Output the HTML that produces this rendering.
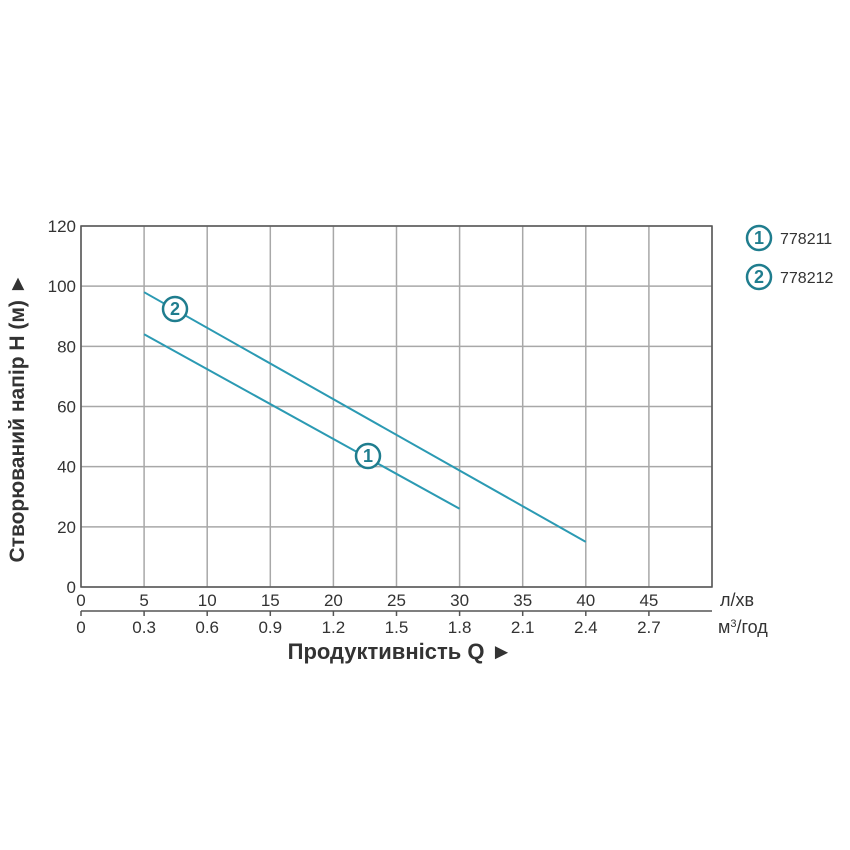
<!DOCTYPE html>
<html><head><meta charset="utf-8"><style>body{margin:0;background:#fff}svg{display:block}text{font-family:"Liberation Sans",sans-serif}</style></head>
<body>
<svg id="c" width="850" height="850" viewBox="0 0 850 850"></svg>
<script>
const xTicks=[0,5,10,15,20,25,30,35,40,45];
const x2Labels=["0","0.3","0.6","0.9","1.2","1.5","1.8","2.1","2.4","2.7"];
const yTicks=[0,20,40,60,80,100,120];
const s1Q=[5,30];
const s1H=[84,26];
const s2Q=[5,40];
const s2H=[98,15];
const legendLabels=["778211","778212"];
const NS="http://www.w3.org/2000/svg";
const svg=document.getElementById('c');
const X0=81,X1=712,Y0=587,Y1=226;
const xs=v=>X0+(v/50)*(X1-X0);
const ys=v=>Y0-(v/120)*(Y0-Y1);
function el(t,a,p){const e=document.createElementNS(NS,t);for(const k in a)e.setAttribute(k,a[k]);(p||svg).appendChild(e);return e;}
xTicks.concat([50]).forEach(v=>{const l=el('line',{x1:xs(v),x2:xs(v),y1:Y1,y2:Y0,stroke:'#a8a8a8','stroke-width':1.5});

});
yTicks.forEach(v=>{const l=el('line',{x1:X0,x2:X1,y1:ys(v),y2:ys(v),stroke:'#a8a8a8','stroke-width':1.5});


const t=el('text',{x:X0-5,y:ys(v)+6,'text-anchor':'end','font-size':17,fill:'#333'});t.textContent=v;

});
const fr=el('rect',{x:X0,y:Y1,width:X1-X0,height:Y0-Y1,fill:'none',stroke:'#555','stroke-width':1.5});


xTicks.forEach(v=>{const t=el('text',{x:xs(v),y:606,'text-anchor':'middle','font-size':17,fill:'#333'});t.textContent=v;

});
const a2=el('line',{x1:X0,x2:X1,y1:611,y2:611,stroke:'#555','stroke-width':1.5});


xTicks.forEach((v,i)=>{const k=el('line',{x1:xs(v),x2:xs(v),y1:611,y2:616,stroke:'#555','stroke-width':1.5});


const t=el('text',{x:xs(v),y:633,'text-anchor':'middle','font-size':17,fill:'#333'});t.textContent=x2Labels[i];

});
function txt(x,y,s,a,name){const t=el('text',Object.assign({x:x,y:y},a));t.textContent=s;return t;}
txt(720,606,'л/хв',{'font-size':18,fill:'#333'},'unit-lmin');
const u=txt(718,633,'м',{'font-size':18,fill:'#333'},'unit-m3h');
const sp=el('tspan',{dy:-6,'font-size':11},u);sp.textContent='3';
const sp2=el('tspan',{dy:6},u);sp2.textContent='/год';
txt(400,659,'Продуктивність  Q  ►',{'font-size':22,'font-weight':'bold',fill:'#333','text-anchor':'middle'},'x-axis-title');
txt(0,0,'Створюваний напір H (м)  ►',{'font-size':21,'font-weight':'bold',fill:'#333','text-anchor':'middle',transform:'translate(24,418) rotate(-90)'},'y-axis-title');
function series(q,h,name){const pts=q.map((v,i)=>xs(v)+','+ys(h[i])).join(' ');
const p=el('polyline',{points:pts,fill:'none',stroke:'#2b9ab3','stroke-width':2});

}
series(s1Q,s1H,'series-778211');
series(s2Q,s2H,'series-778212');
function badge(cx,cy,n,name){const g=el('g',{});


el('circle',{cx:cx,cy:cy,r:12,fill:'#fff',stroke:'#1f7d8e','stroke-width':2.5},g);
const t=el('text',{x:cx,y:cy+6,'text-anchor':'middle','font-size':18,'font-weight':'bold',fill:'#1f7d8e'},g);t.textContent=n;}
badge(175,309,'2','series-2-badge');
badge(368,456,'1','series-1-badge');
legendLabels.forEach((l,i)=>{const y=238+i*39;badge(759,y,String(i+1),'legend-badge');
txt(780,y+6,l,{'font-size':16,fill:'#333'},'legend-label');});
</script>
</body></html>
